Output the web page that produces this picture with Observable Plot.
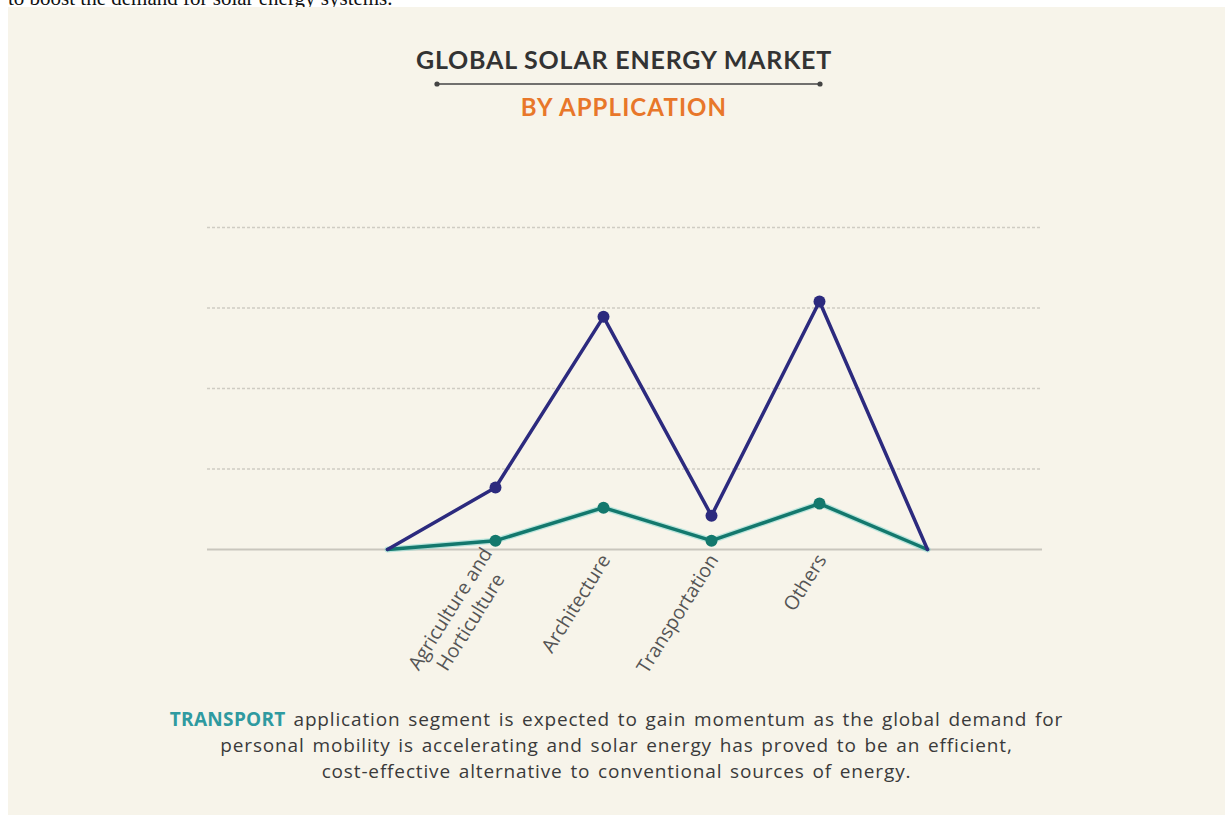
<!DOCTYPE html>
<html>
<head>
<meta charset="utf-8">
<script src="https://cdn.jsdelivr.net/npm/d3@7"></script>
<script src="https://cdn.jsdelivr.net/npm/@observablehq/plot@0.6"></script>
<style>
  html, body { margin: 0; padding: 0; background: #ffffff; width: 1225px; height: 815px; overflow: hidden; }
  #page { position: relative; width: 1225px; height: 815px; }
  #topline { position: absolute; left: 8px; top: -12px; font-family: "Liberation Serif", serif; font-size: 21px; line-height: 21px; color: #111; white-space: nowrap; }
  #panel { position: absolute; left: 8px; top: 7px; width: 1217px; height: 808px; background: #f7f4ea; }
  .title { position: absolute; left: 624px; transform: translateX(-50%); white-space: nowrap; font-family: Lato, sans-serif; font-weight: 700; }
  #t1 { top: 47px; font-size: 25px; line-height: 25px; letter-spacing: 0.8px; color: #333333; }
  #t2 { top: 95px; font-size: 24px; line-height: 24px; letter-spacing: 1.1px; color: #e8772a; }
  #rule { position: absolute; left: 430px; top: 78px; }
  #chart { position: absolute; left: 0; top: 140px; }
  .cap { position: absolute; left: 8px; width: 1217px; text-align: center; white-space: nowrap; font-family: "Open Sans", sans-serif; font-size: 19px; line-height: 26px; letter-spacing: 0.85px; word-spacing: 2px; color: #3a3a3a; }
  .cap b { color: #2f9aa0; font-weight: 700; letter-spacing: 0.3px; }
</style>
</head>
<body>
<div id="page">
  <div id="topline">to boost the demand for solar energy systems.</div>
  <div id="panel"></div>
  <div id="t1" class="title">GLOBAL SOLAR ENERGY MARKET</div>
  <svg id="rule" width="400" height="12"><line x1="7" y1="6" x2="390" y2="6" stroke="#444" stroke-width="1.5"/><circle cx="7" cy="6" r="2.6" fill="#444"/><circle cx="390" cy="6" r="2.6" fill="#444"/></svg>
  <div id="t2" class="title">BY APPLICATION</div>
  <div id="chart"></div>
  <div class="cap" style="top:706px"><b>TRANSPORT</b> application segment is expected to gain momentum as the global demand for</div>
  <div class="cap" style="top:732px">personal mobility is accelerating and solar energy has proved to be an efficient,</div>
  <div class="cap" style="top:758px">cost-effective alternative to conventional sources of energy.</div>
</div>
<script>
// Categories along the x axis (first and last are unlabeled anchor points at zero)
const categories = ["start", "Agriculture and\nHorticulture\u00a0\u00a0\u00a0", "Architecture", "Transportation", "Others", "end"];
// Series values (in grid units)
const seriesHigh = [0, 0.77, 2.89, 0.42, 3.08, 0];
const seriesLow  = [0, 0.11, 0.52, 0.11, 0.57, 0];
// Gridline values
const gridValues = [1, 2, 3, 4];

const rows = [];
categories.forEach((c, i) => {
  rows.push({category: c, series: "high", value: seriesHigh[i], labeled: i > 0 && i < categories.length - 1});
  rows.push({category: c, series: "low", value: seriesLow[i], labeled: i > 0 && i < categories.length - 1});
});
const high = rows.filter(d => d.series === "high");
const low = rows.filter(d => d.series === "low");

const chart = Plot.plot({
  width: 1225,
  height: 560,
  marginLeft: 207,
  marginRight: 183,
  marginTop: 87,
  marginBottom: 151,
  style: {background: "transparent", fontFamily: "Open Sans, sans-serif", color: "#555555"},
  x: {type: "point", domain: categories, range: [386, 927], padding: 0, label: null},
  y: {domain: [0, 4], label: null},
  marks: [
    Plot.ruleY(gridValues, {stroke: "#cfccc3", strokeWidth: 1.5, strokeDasharray: "3,2"}),
    Plot.ruleY([0], {stroke: "#c9c6bd", strokeWidth: 2}),
    Plot.line(low, {x: "category", y: "value", stroke: "#6fd3cb", strokeWidth: 6, strokeOpacity: 0.45}),
    Plot.line(low, {x: "category", y: "value", stroke: "#13786d", strokeWidth: 3.5}),
    Plot.line(high, {x: "category", y: "value", stroke: "#2c2a7e", strokeWidth: 3.5}),
    Plot.dot(low.filter(d => d.labeled), {x: "category", y: "value", r: 6, fill: "#13786d"}),
    Plot.dot(high.filter(d => d.labeled), {x: "category", y: "value", r: 6, fill: "#2c2a7e"}),
    Plot.axisX({
      label: null,
      tickSize: 0,
      tickPadding: 6,
      tickRotate: -58,
      fontSize: 19.5,
      lineHeight: 1.25,
      dx: 1,
      tickFormat: d => (d === "start" || d === "end") ? "" : d
    }),
    Plot.axisY({ticks: [], label: null, tickSize: 0})
  ]
});
document.getElementById("chart").appendChild(chart);
</script>
</body>
</html>
